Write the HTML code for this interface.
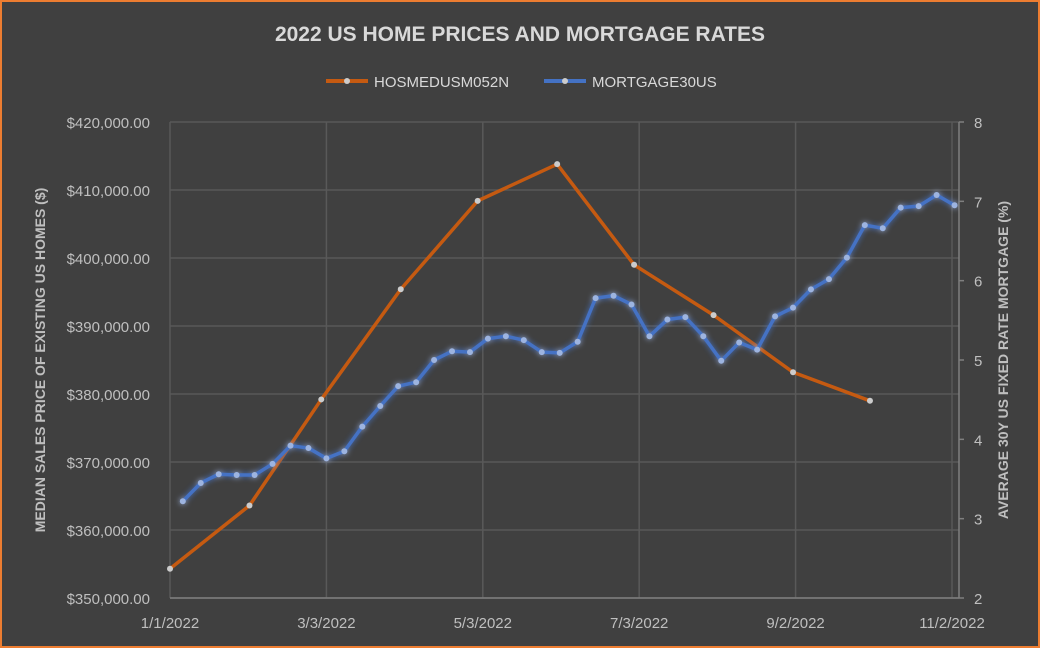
<!DOCTYPE html>
<html><head><meta charset="utf-8"><style>
body{margin:0;background:#404040;}
svg{display:block;font-family:"Liberation Sans",sans-serif;}
</style></head><body>
<svg width="1040" height="648" viewBox="0 0 1040 648">
<defs>
<filter id="glow" x="-10%" y="-10%" width="120%" height="120%"><feGaussianBlur stdDeviation="3" result="b"/><feMerge><feMergeNode in="b"/><feMergeNode in="SourceGraphic"/></feMerge></filter>
<clipPath id="pc"><rect x="165" y="110" width="794" height="500"/></clipPath>
</defs>
<rect x="1" y="1" width="1038" height="646" fill="#404040" stroke="#ed7d31" stroke-width="2"/>
<text x="520" y="41" text-anchor="middle" fill="#d9d9d9" font-size="21" font-weight="bold">2022 US HOME PRICES AND MORTGAGE RATES</text>
<g>
<g><line x1="326" y1="81" x2="368" y2="81" stroke="#c55a11" stroke-width="4"/><circle cx="347" cy="81" r="3" fill="#ccc"/><text x="374" y="87" fill="#d9d9d9" font-size="15">HOSMEDUSM052N</text></g>
<g><line x1="544" y1="81" x2="586" y2="81" stroke="#4472c4" stroke-width="4"/><circle cx="565" cy="81" r="3" fill="#ccc"/><text x="592" y="87" fill="#d9d9d9" font-size="15">MORTGAGE30US</text></g>
</g>
<g id="grid"></g>
<g id="axes"></g>
<text transform="translate(45,360) rotate(-90)" text-anchor="middle" fill="#bfbfbf" font-size="14" font-weight="bold">MEDIAN SALES PRICE OF EXISTING US HOMES ($)</text>
<text transform="translate(1008,360) rotate(-90)" text-anchor="middle" fill="#bfbfbf" font-size="14" font-weight="bold">AVERAGE 30Y US FIXED RATE MORTGAGE (%)</text>
<g id="series" clip-path="url(#pc)"></g>
</svg>
<script>
const priceDates=["2022-01-01","2022-02-01","2022-03-01","2022-04-01","2022-05-01","2022-06-01","2022-07-01","2022-08-01","2022-09-01","2022-10-01"];
const priceValues=[354300,363600,379200,395400,408400,413800,399000,391600,383200,379000];
const rateStartDate="2022-01-06";
const rateValues=[3.22,3.45,3.56,3.55,3.55,3.69,3.92,3.89,3.76,3.85,4.16,4.42,4.67,4.72,5.00,5.11,5.10,5.27,5.30,5.25,5.10,5.09,5.23,5.78,5.81,5.70,5.30,5.51,5.54,5.30,4.99,5.22,5.13,5.55,5.66,5.89,6.02,6.29,6.70,6.66,6.92,6.94,7.08,6.95];
const leftTicks=[350000,360000,370000,380000,390000,400000,410000,420000];
const rightTicks=[2,3,4,5,6,7,8];
const xTickLabels=["1/1/2022","3/3/2022","5/3/2022","7/3/2022","9/2/2022","11/2/2022"];
const xTickDates=["2022-01-01","2022-03-03","2022-05-03","2022-07-03","2022-09-02","2022-11-02"];

const NS="http://www.w3.org/2000/svg";
const X0=170,X1=952,T0=Date.parse("2022-01-01"),T1=Date.parse("2022-11-02");
const TOP=122,BOT=598,PR=959;
const xs=d=>X0+(Date.parse(d)-T0)/(T1-T0)*(X1-X0);
const xt=t=>X0+(t-T0)/(T1-T0)*(X1-X0);
const yl=v=>BOT-(v-350000)/(420000-350000)*(BOT-TOP);
const yr=v=>BOT-(v-2)/(8-2)*(BOT-TOP);
function mk(tag,attrs,parent){const e=document.createElementNS(NS,tag);for(const k in attrs)e.setAttribute(k,attrs[k]);parent.appendChild(e);return e;}
const grid=document.getElementById('grid'),axes=document.getElementById('axes'),ser=document.getElementById('series');
leftTicks.forEach(v=>{
  const l=mk('line',{x1:X0,x2:PR,y1:yl(v),y2:yl(v),stroke:'#595959','stroke-width':1.5},grid);
  
  
  const t=mk('text',{x:150,y:yl(v)+6,'text-anchor':'end',fill:'#bfbfbf','font-size':15},axes);
  t.textContent='$'+v.toLocaleString('en-US')+'.00';
  
  
});
xTickDates.forEach((d,i)=>{
  const x=xs(d);
  const l=mk('line',{x1:x,x2:x,y1:TOP,y2:BOT,stroke:'#595959','stroke-width':1.5},grid);
  
  
  const t=mk('text',{x:x,y:628,'text-anchor':'middle',fill:'#bfbfbf','font-size':15},axes);
  t.textContent=xTickLabels[i];
  
  
});
mk('line',{x1:PR,x2:PR,y1:TOP,y2:BOT,stroke:'#7f7f7f','stroke-width':1.5},axes);
mk('line',{x1:X0,x2:PR,y1:BOT,y2:BOT,stroke:'#7f7f7f','stroke-width':1.5},axes);
rightTicks.forEach(v=>{
  mk('line',{x1:PR,x2:PR+5,y1:yr(v),y2:yr(v),stroke:'#7f7f7f','stroke-width':1.5},axes);
  const t=mk('text',{x:974,y:yr(v)+6,fill:'#bfbfbf','font-size':15},axes);
  t.textContent=v;
  
  
});
// price series
const pp=priceDates.map((d,i)=>[xs(d),yl(priceValues[i])]);
const pl=mk('polyline',{points:pp.map(p=>p.join(',')).join(' '),fill:'none',stroke:'#c55a11','stroke-width':3.5,'stroke-linejoin':'round'},ser);


pp.forEach(p=>{const c=mk('circle',{cx:p[0],cy:p[1],r:3,fill:'#ccc'},ser);
  
  });
// rate series
const r0=Date.parse(rateStartDate);
const rp=rateValues.map((v,i)=>[xt(r0+i*7*86400000),yr(v)]);
const rg=mk('g',{filter:'url(#glow)'},ser);
const rl=mk('polyline',{points:rp.map(p=>p.join(',')).join(' '),fill:'none',stroke:'#4472c4','stroke-width':3.5,'stroke-linejoin':'round'},rg);


rp.forEach(p=>{const c=mk('circle',{cx:p[0],cy:p[1],r:3,fill:'#9db4e0'},rg);
  
  });
</script>
</body></html>
